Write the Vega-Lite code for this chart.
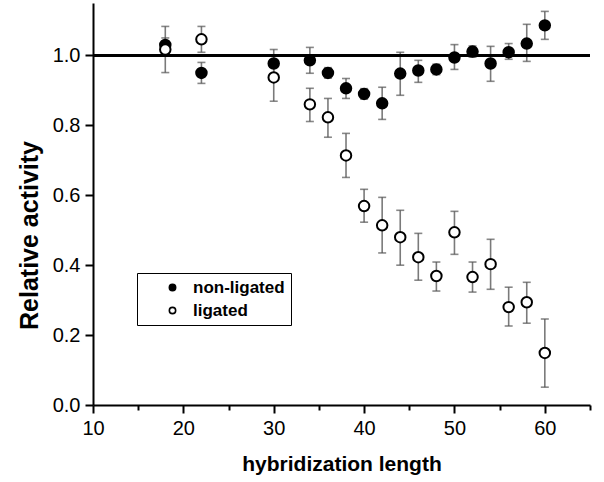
{
  "$schema": "https://vega.github.io/schema/vega-lite/v6.json",
  "width": 497,
  "height": 402,
  "autosize": "none",
  "padding": {"left": 93, "top": 3, "right": 14, "bottom": 77},
  "background": "white",
  "config": {
    "view": {"stroke": null},
    "font": "Liberation Sans",
    "axis": {
      "domainColor": "black",
      "domainWidth": 2,
      "tickColor": "black",
      "tickWidth": 2,
      "grid": false,
      "labelColor": "black",
      "labelFont": "Liberation Sans",
      "labelFontSize": 20,
      "titleColor": "black",
      "titleFont": "Liberation Sans",
      "titleFontWeight": "bold"
    }
  },
  "data": {
    "values": [
      {"x": 18, "series": "non-ligated", "y": 1.03, "lo": 1.0, "hi": 1.083},
      {"x": 22, "series": "non-ligated", "y": 0.95, "lo": 0.92, "hi": 0.98},
      {"x": 30, "series": "non-ligated", "y": 0.977, "lo": 0.94, "hi": 1.017},
      {"x": 34, "series": "non-ligated", "y": 0.986, "lo": 0.949, "hi": 1.023},
      {"x": 36, "series": "non-ligated", "y": 0.95, "lo": 0.935, "hi": 0.965},
      {"x": 38, "series": "non-ligated", "y": 0.906, "lo": 0.877, "hi": 0.934},
      {"x": 40, "series": "non-ligated", "y": 0.89, "lo": 0.875, "hi": 0.905},
      {"x": 42, "series": "non-ligated", "y": 0.863, "lo": 0.817, "hi": 0.909},
      {"x": 44, "series": "non-ligated", "y": 0.948, "lo": 0.886, "hi": 1.009},
      {"x": 46, "series": "non-ligated", "y": 0.957, "lo": 0.923, "hi": 0.986},
      {"x": 48, "series": "non-ligated", "y": 0.96, "lo": 0.945, "hi": 0.975},
      {"x": 50, "series": "non-ligated", "y": 0.994, "lo": 0.96, "hi": 1.031},
      {"x": 52, "series": "non-ligated", "y": 1.011, "lo": 0.995, "hi": 1.027},
      {"x": 54, "series": "non-ligated", "y": 0.977, "lo": 0.926, "hi": 1.026},
      {"x": 56, "series": "non-ligated", "y": 1.009, "lo": 0.989, "hi": 1.034},
      {"x": 58, "series": "non-ligated", "y": 1.034, "lo": 0.983, "hi": 1.089},
      {"x": 60, "series": "non-ligated", "y": 1.086, "lo": 1.046, "hi": 1.126},
      {"x": 18, "series": "ligated", "y": 1.017, "lo": 0.951, "hi": 1.05},
      {"x": 22, "series": "ligated", "y": 1.046, "lo": 1.009, "hi": 1.083},
      {"x": 30, "series": "ligated", "y": 0.937, "lo": 0.869, "hi": 1.0},
      {"x": 34, "series": "ligated", "y": 0.86, "lo": 0.811, "hi": 0.906},
      {"x": 36, "series": "ligated", "y": 0.823, "lo": 0.766, "hi": 0.877},
      {"x": 38, "series": "ligated", "y": 0.714, "lo": 0.651, "hi": 0.777},
      {"x": 40, "series": "ligated", "y": 0.569, "lo": 0.523, "hi": 0.617},
      {"x": 42, "series": "ligated", "y": 0.514, "lo": 0.435, "hi": 0.594},
      {"x": 44, "series": "ligated", "y": 0.48, "lo": 0.4, "hi": 0.557},
      {"x": 46, "series": "ligated", "y": 0.423, "lo": 0.357, "hi": 0.491},
      {"x": 48, "series": "ligated", "y": 0.369, "lo": 0.326, "hi": 0.409},
      {"x": 50, "series": "ligated", "y": 0.494, "lo": 0.431, "hi": 0.554},
      {"x": 52, "series": "ligated", "y": 0.366, "lo": 0.323, "hi": 0.409},
      {"x": 54, "series": "ligated", "y": 0.403, "lo": 0.331, "hi": 0.474},
      {"x": 56, "series": "ligated", "y": 0.28, "lo": 0.226, "hi": 0.337},
      {"x": 58, "series": "ligated", "y": 0.294, "lo": 0.234, "hi": 0.351},
      {"x": 60, "series": "ligated", "y": 0.149, "lo": 0.051, "hi": 0.246}
    ]
  },
  "encoding": {
    "x": {
      "field": "x",
      "type": "quantitative",
      "scale": {"domain": [10, 65], "nice": false, "zero": false},
      "axis": {
        "title": "hybridization length",
        "titleFontSize": 21,
        "titleY": 48,
        "titleBaseline": "top",
        "values": [10, 15, 20, 25, 30, 35, 40, 45, 50, 55, 60, 65],
        "labelExpr": "datum.value % 10 === 0 ? datum.label : ''",
        "tickSize": {"condition": {"test": "datum.value % 10 === 0", "value": 8}, "value": 5},
        "labelPadding": 5,
        "labelFlush": false
      }
    }
  },
  "layer": [
    {
      "mark": {"type": "rule", "color": "#7a7a7a", "strokeWidth": 1.6},
      "encoding": {
        "y": {"field": "lo", "type": "quantitative"},
        "y2": {"field": "hi"}
      }
    },
    {
      "mark": {"type": "tick", "orient": "horizontal", "color": "#555555", "size": 8, "thickness": 1.6},
      "encoding": {"y": {"field": "lo", "type": "quantitative"}}
    },
    {
      "mark": {"type": "tick", "orient": "horizontal", "color": "#555555", "size": 8, "thickness": 1.6},
      "encoding": {"y": {"field": "hi", "type": "quantitative"}}
    },
    {
      "mark": {"type": "rule", "color": "black", "strokeWidth": 1.6},
      "encoding": {"y": {"datum": 1}, "x": null}
    },
    {
      "mark": {"type": "point", "shape": "circle", "filled": true, "size": 110, "stroke": "black", "strokeWidth": 2, "opacity": 1},
      "encoding": {
        "y": {
          "field": "y",
          "type": "quantitative",
          "scale": {"domain": [0, 1.15], "nice": false, "zero": false},
          "axis": {
            "title": "Relative activity",
            "titleFontSize": 25,
            "titleX": -51,
            "titleY": 232,
            "values": [0, 0.1, 0.2, 0.3, 0.4, 0.5, 0.6, 0.7, 0.8, 0.9, 1.0, 1.1],
            "labelExpr": "round(datum.value * 10) % 2 === 0 ? format(datum.value, '.1f') : ''",
            "tickSize": {"condition": {"test": "round(datum.value * 10) % 2 === 0", "value": 8}, "value": 5},
            "labelPadding": 5,
            "labelFlush": false
          }
        },
        "fill": {
          "field": "series",
          "type": "nominal",
          "sort": ["non-ligated", "ligated"],
          "scale": {"domain": ["non-ligated", "ligated"], "range": ["black", "white"]},
          "legend": {
            "title": null,
            "orient": "none",
            "legendX": 44,
            "legendY": 270,
            "strokeColor": "black",
            "padding": 6,
            "symbolType": "circle",
            "symbolSize": 40,
            "symbolStrokeColor": "black",
            "symbolStrokeWidth": 1.6,
            "symbolOffset": 21,
            "labelOffset": 12,
            "labelFont": "Liberation Sans",
            "labelFontSize": 17,
            "labelFontWeight": "bold",
            "labelColor": "black",
            "rowPadding": 5,
            "fillColor": "white"
          }
        }
      }
    }
  ]
}
